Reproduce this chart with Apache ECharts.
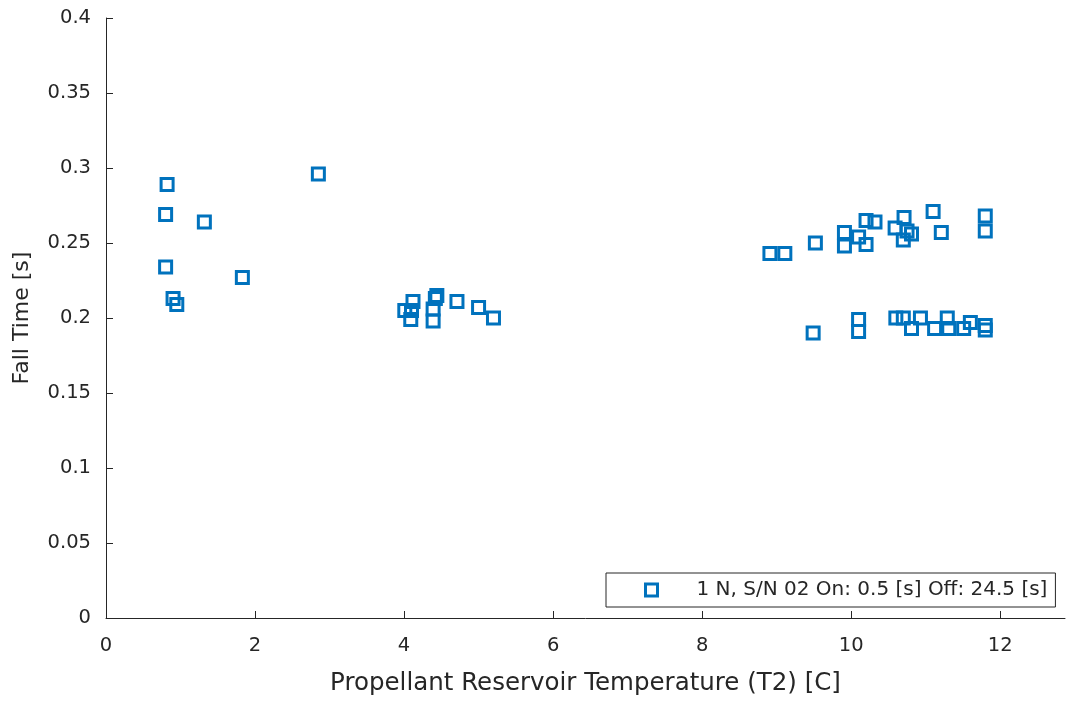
<!DOCTYPE html>
<html>
<head>
<meta charset="utf-8">
<script src="https://cdn.jsdelivr.net/npm/echarts@6/dist/echarts.min.js"></script>
<style>
  html, body { margin: 0; padding: 0; background: #fff; }
  #chart { width: 1067px; height: 702px; }
</style>
</head>
<body>
<div id="chart"></div>
<script>
// temperature T2 [C] and fall time [s]
const tempC = [
  0.82, 0.80, 1.32, 0.80, 1.83, 0.90, 0.95, 2.85,
  4.01, 4.12, 4.09, 4.10, 4.42, 4.39, 4.39, 4.44, 4.71, 5.00, 5.20,
  8.91, 9.11, 9.52, 9.91, 9.91, 10.10, 10.20, 10.20, 10.32, 10.59, 10.71, 10.81, 10.70, 10.75,
  11.10, 11.21, 11.80, 11.80,
  9.49, 10.10, 10.10, 10.60, 10.70, 10.81, 10.93, 11.12, 11.29, 11.31, 11.51, 11.60, 11.80, 11.80
]
const fallTime = [
  0.289, 0.269, 0.264, 0.234, 0.227, 0.213, 0.209, 0.296,
  0.205, 0.211, 0.199, 0.205, 0.213, 0.206, 0.198, 0.215, 0.211, 0.207, 0.200,
  0.243, 0.243, 0.250, 0.257, 0.248, 0.254, 0.265, 0.249, 0.264, 0.260, 0.267, 0.256, 0.252, 0.258,
  0.271, 0.257, 0.268, 0.258,
  0.190, 0.199, 0.191, 0.200, 0.200, 0.193, 0.200, 0.193, 0.200, 0.193, 0.193, 0.197, 0.195, 0.192
]
const xTicks = [0, 2, 4, 6, 8, 10, 12]
const seriesName = '1 N, S/N 02 On: 0.5 [s] Off: 24.5 [s]'

const points = tempC.map((t, i) => [t, fallTime[i]])

const txt = '#262626'
const font = 'DejaVu Sans, sans-serif'

let mychart = echarts.init(document.getElementById('chart'))

mychart.setOption({
  animation: false,
  grid: {
    left: 106,
    right: 2,
    top: 18,
    bottom: 84,
    containLabel: false,
    outerBoundsMode: 'none',
  },
  legend: {
    data: [seriesName],
    left: 606,
    top: 573,
    padding: [7, 8, 7, 38],
    borderColor: txt,
    borderWidth: 1,
    backgroundColor: '#fff',
    icon: 'rect',
    itemWidth: 12,
    itemHeight: 12,
    itemStyle: {
      color: 'transparent',
      borderColor: '#0072BD',
      borderWidth: 3,
    },
    textStyle: {
      color: txt,
      fontSize: 20,
      fontFamily: font,
      padding: [0, 0, 0, 34],
    },
  },
  xAxis: {
    type: 'value',
    min: 0,
    max: 12.87,
    name: 'Propellant Reservoir Temperature (T2) [C]',
    nameLocation: 'middle',
    nameGap: 53,
    nameTextStyle: { color: txt, fontSize: 24.5, fontFamily: font },
    axisLine: { lineStyle: { color: txt, width: 1 } },
    axisTick: { inside: true, length: 7, customValues: xTicks, lineStyle: { color: txt } },
    axisLabel: { customValues: xTicks, color: txt, fontSize: 19.5, fontFamily: font, margin: 18 },
    splitLine: { show: false },
  },
  yAxis: {
    type: 'value',
    min: 0,
    max: 0.4,
    interval: 0.05,
    name: 'Fall Time [s]',
    nameLocation: 'middle',
    nameGap: 73,
    nameTextStyle: { color: txt, fontSize: 22, fontFamily: font },
    axisLine: { show: true, lineStyle: { color: txt, width: 1 } },
    axisTick: { show: true, inside: true, length: 7, lineStyle: { color: txt } },
    axisLabel: { color: txt, fontSize: 19.5, fontFamily: font, margin: 15 },
    splitLine: { show: false },
  },
  series: [
    {
      name: seriesName,
      type: 'scatter',
      data: points,
      symbol: 'rect',
      symbolSize: 12,
      itemStyle: {
        color: 'transparent',
        borderColor: '#0072BD',
        borderWidth: 3,
        opacity: 1,
      },
    },
  ],
})
</script>
</body>
</html>
